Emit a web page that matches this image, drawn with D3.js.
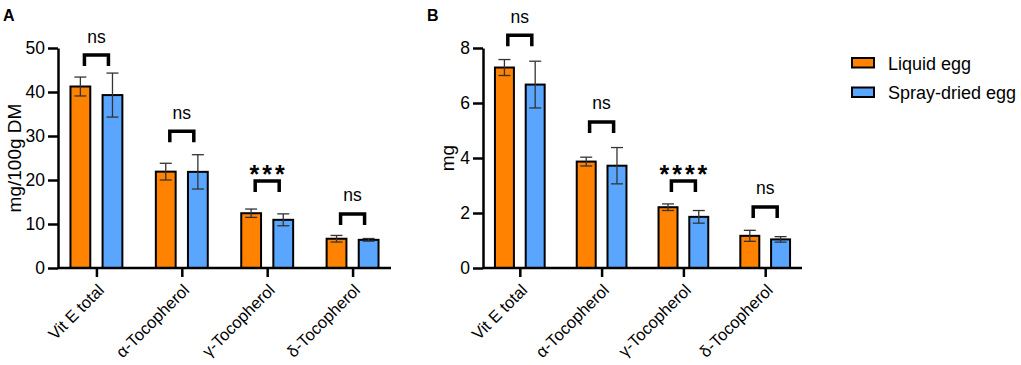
<!DOCTYPE html>
<html>
<head>
<meta charset="utf-8">
<style>
  body { margin: 0; background: #fff; }
  svg text { font-family: "Liberation Sans", Arial, sans-serif; fill: #000; }
</style>
</head>
<body>
<div id="chart"></div>
<script src="https://d3js.org/d3.v7.min.js"></script>
<script>
const categories = ["Vit E total", "α-Tocopherol", "γ-Tocopherol", "δ-Tocopherol"];
const groups = ["Liquid egg", "Spray-dried egg"];
const colors = ["#ff8200", "#5aa6ff"];

// panel A, mg/100g DM
const liquidA = [41.25, 21.9, 12.45, 6.65];
const liquidAErr = [2.15, 1.9, 0.95, 0.75];
const sprayA = [39.3, 21.85, 10.95, 6.4];
const sprayAErr = [5.0, 3.9, 1.35, 0.3];
const sigA = ["ns", "ns", "***", "ns"];
const bracketA = [48.4, 31.1, 19.8, 12.3];
const ticksA = [0, 10, 20, 30, 40, 50];

// panel B, mg
const liquidB = [7.29, 3.87, 2.21, 1.17];
const liquidBErr = [0.29, 0.16, 0.12, 0.2];
const sprayB = [6.67, 3.72, 1.86, 1.04];
const sprayBErr = [0.85, 0.66, 0.23, 0.1];
const sigB = ["ns", "ns", "****", "ns"];
const bracketB = [8.46, 5.31, 3.16, 2.22];
const ticksB = [0, 2, 4, 6, 8];

const W = 1021, H = 365;
const svg = d3.select("#chart").append("svg").attr("width", W).attr("height", H);

function drawPanel(p) {
  const g = svg.append("g");
  const x = d3.scalePoint().domain(categories).range([p.left, p.right]).padding(0.45);
  const y = d3.scaleLinear().domain([0, p.max]).range([p.bottom, p.top]);
  const step = x.step();
  const off = step * 0.188, bw = step * 0.232;

  const rows = [];
  categories.forEach((c, i) => {
    rows.push({ c, k: 0, v: p.liquid[i], e: p.liquidErr[i] });
    rows.push({ c, k: 1, v: p.spray[i], e: p.sprayErr[i] });
  });

  g.append("g").selectAll("rect").data(rows).join("rect")
    .attr("x", d => x(d.c) + (d.k ? off : -off) - bw / 2)
    .attr("width", bw)
    .attr("y", d => y(d.v))
    .attr("height", d => y(0) - y(d.v))
    .attr("fill", d => colors[d.k])
    .attr("stroke", "#000")
    .attr("stroke-width", 2);

  // error bars with caps
  const eb = g.append("g").attr("stroke", "#333").attr("stroke-width", 1.3);
  rows.forEach(d => {
    const cx = x(d.c) + (d.k ? off : -off);
    const y1 = y(d.v + d.e), y2 = y(d.v - d.e);
    eb.append("line").attr("x1", cx).attr("x2", cx).attr("y1", y1).attr("y2", y2);
    eb.append("line").attr("x1", cx - 6).attr("x2", cx + 6).attr("y1", y1).attr("y2", y1);
    eb.append("line").attr("x1", cx - 6).attr("x2", cx + 6).attr("y1", y2).attr("y2", y2);
  });

  // axes
  const ya = g.append("g").attr("transform", `translate(${p.left},0)`)
    .call(d3.axisLeft(y).tickValues(p.ticks).tickSize(10).tickPadding(3).tickSizeOuter(0));
  ya.selectAll("text").attr("font-size", 17.5);
  const xa = g.append("g").attr("transform", `translate(0,${p.bottom})`)
    .call(d3.axisBottom(x).tickSize(9).tickSizeOuter(0));
  xa.select(".domain").attr("d", `M${p.left},0H${p.right}`);
  xa.selectAll("text")
    .attr("font-size", 16.5)
    .attr("text-anchor", "end")
    .attr("dy", "0.35em")
    .attr("y", 0)
    .attr("transform", "translate(4,19) rotate(-45)");
  g.selectAll(".domain, .tick line").attr("stroke", "#000").attr("stroke-width", 2.5);

  // significance brackets
  categories.forEach((c, i) => {
    const cx = x(c), by = y(p.bracket[i]);
    g.append("path")
      .attr("d", `M${cx - 12},${by + 11}V${by}H${cx + 12}V${by + 11}`)
      .attr("fill", "none").attr("stroke", "#000").attr("stroke-width", 3.5)
      .attr("stroke-linejoin", "miter");
    const star = p.sig[i] !== "ns";
    g.append("text")
      .attr("x", star ? cx + 1.5 : cx)
      .attr("y", star ? by + 2 : by - 12.5)
      .attr("text-anchor", "middle")
      .attr("font-size", star ? 25 : 17.5)
      .attr("font-weight", star ? "bold" : "normal")
      .attr("letter-spacing", star ? 3 : 0)
      .text(p.sig[i]);
  });

  g.append("text")
    .attr("transform", `translate(${p.titleX},158) rotate(-90)`)
    .attr("dy", "0.35em")
    .attr("text-anchor", "middle")
    .attr("font-size", 19)
    .text(p.title);

  g.append("text")
    .attr("x", p.labelX).attr("y", 21)
    .attr("font-size", 16).attr("font-weight", "bold")
    .text(p.label);
}

drawPanel({
  left: 58, right: 391, top: 48, bottom: 268, max: 50,
  liquid: liquidA, liquidErr: liquidAErr, spray: sprayA, sprayErr: sprayAErr,
  sig: sigA, bracket: bracketA, ticks: ticksA,
  title: "mg/100g DM", titleX: 14, label: "A", labelX: 3
});
drawPanel({
  left: 483, right: 802, top: 48, bottom: 268, max: 8,
  liquid: liquidB, liquidErr: liquidBErr, spray: sprayB, sprayErr: sprayBErr,
  sig: sigB, bracket: bracketB, ticks: ticksB,
  title: "mg", titleX: 447, label: "B", labelX: 427
});

// legend
const lg = svg.append("g").attr("transform", "translate(852,58)");
groups.forEach((name, i) => {
  lg.append("rect").attr("x", 0).attr("y", i * 29.5).attr("width", 22).attr("height", 9.5)
    .attr("fill", colors[i]).attr("stroke", "#000").attr("stroke-width", 2);
  lg.append("text").attr("x", 36).attr("y", i * 29.5 + 11.5)
    .attr("font-size", 18).text(name);
});
</script>
</body>
</html>
